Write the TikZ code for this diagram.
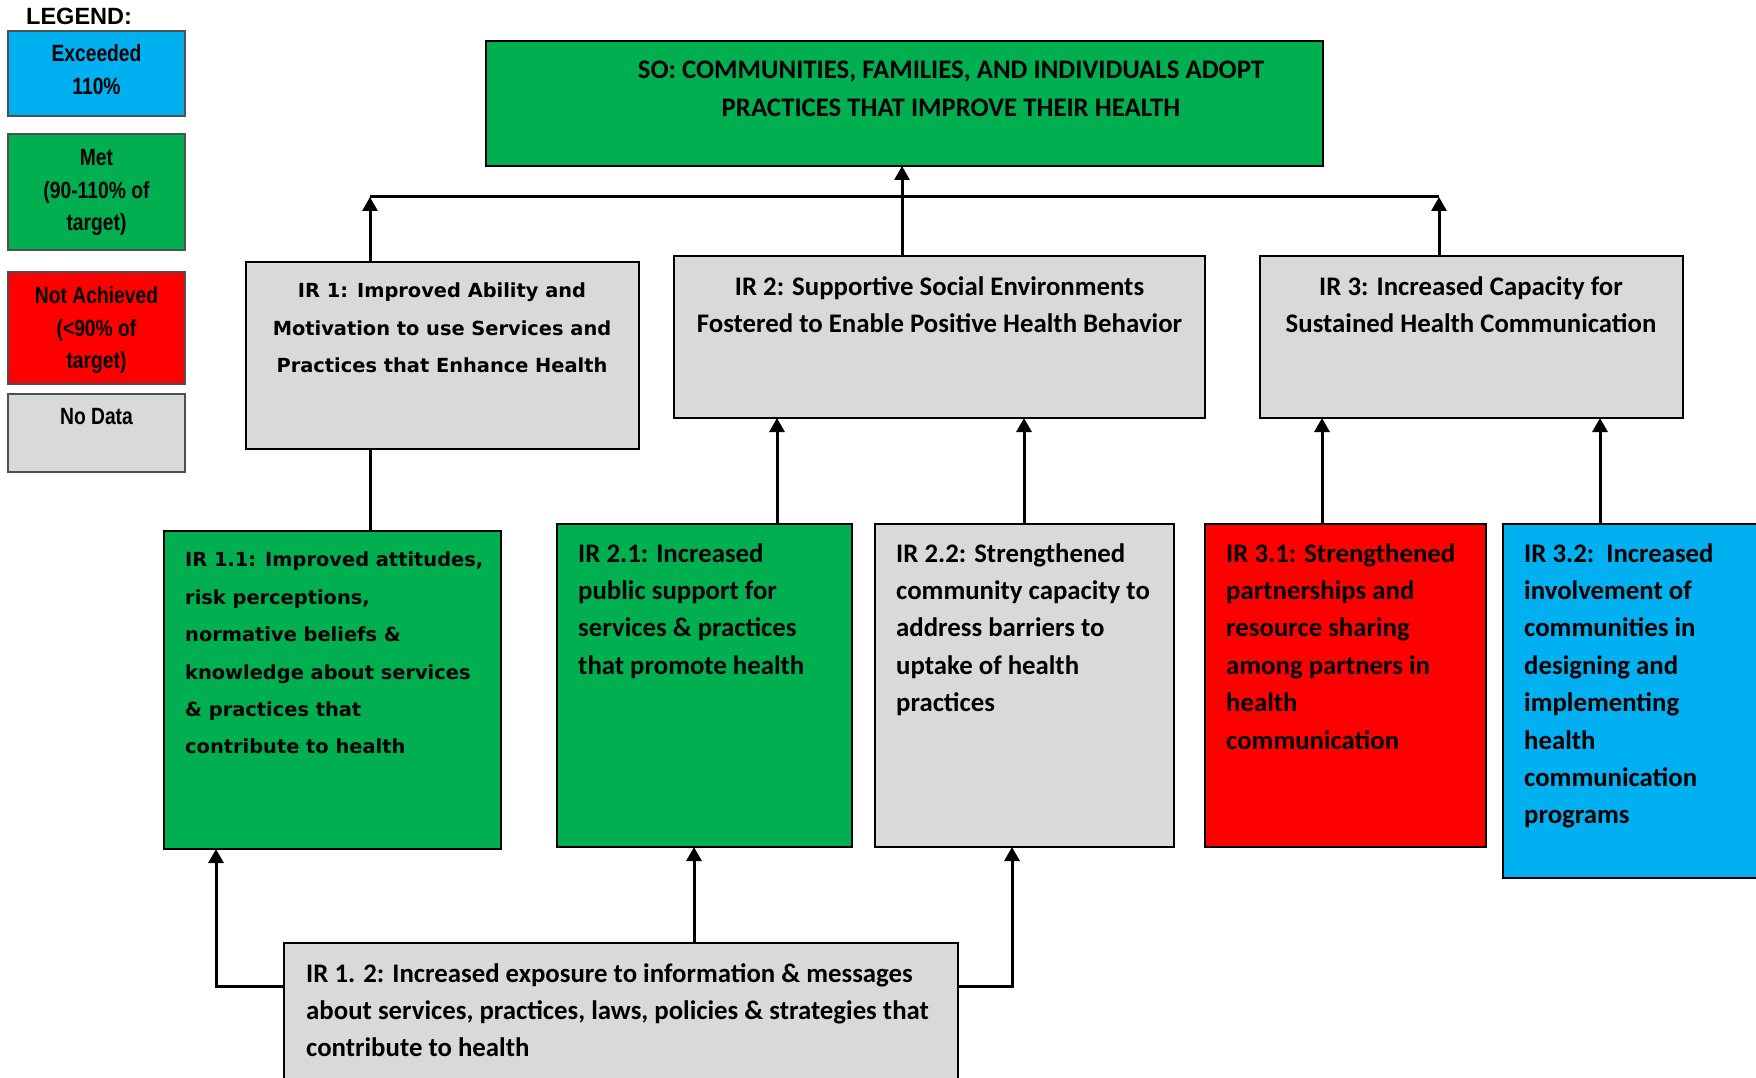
\documentclass[tikz,border=0pt]{standalone}
\usepackage{fontspec}
\setmainfont{Carlito}
\newfontfamily\verd{DejaVu Sans}
\newfontfamily\legfont{Liberation Sans}[FakeStretch=0.82]
\newfontfamily\leghead{Liberation Sans}
\usetikzlibrary{arrows.meta}
\definecolor{cgreen}{HTML}{00B050}
\definecolor{cblue}{HTML}{00B0F0}
\definecolor{cred}{HTML}{FF0000}
\definecolor{cgray}{HTML}{D9D9D9}
\definecolor{legline}{HTML}{505050}
\tikzset{
  box/.style={draw=black, line width=2.2pt, inner sep=0pt, outer sep=0pt, anchor=north west},
  legbox/.style={draw=legline, line width=1.4pt, inner sep=0pt, outer sep=0pt, anchor=north west, minimum width=177pt},
  conn/.style={line width=3pt, black},
  arr/.style={conn, -{Triangle[width=15pt,length=14pt]}},
  caltxt/.style={inner sep=0pt, anchor=north west, align=left, font=\fontsize{26.8}{37.4}\selectfont\bfseries},
  calctr/.style={caltxt, anchor=north, align=center},
  vertxt/.style={inner sep=0pt, anchor=north west, align=left, font=\verd\fontsize{19.4}{37.4}\selectfont\bfseries},
  verctr/.style={vertxt, anchor=north, align=center},
  legtxt/.style={inner sep=0pt, anchor=north, align=center, font=\legfont\fontsize{23.5}{32.5}\selectfont\bfseries},
}
\begin{document}
\begin{tikzpicture}[x=1pt,y=-1pt]
\useasboundingbox (0,0) rectangle (1756,1078);
\clip (0,0) rectangle (1756,1078);
\fill[white] (0,0) rectangle (1756,1078);

% legend
\node[inner sep=0pt, anchor=north west, font=\leghead\fontsize{23.5}{28}\selectfont\bfseries] (leghd) at (26,8) {LEGEND:};
\node[legbox, fill=cblue, minimum height=85pt] (leg1) at (8,31) {};
\node[legbox, fill=cgreen, minimum height=116pt] (leg2) at (8,134) {};
\node[legbox, fill=cred, minimum height=112pt] (leg3) at (8,272) {};
\node[legbox, fill=cgray, minimum height=78pt] (leg4) at (8,394) {};
\node[legtxt] (leg1t) at (96.5,44.5) {Exceeded\\110\%};
\node[legtxt] (leg2t) at (96.5,149.5) {Met\\(90-110\% of\\target)};
\node[legtxt] (leg3t) at (96.5,286.5) {Not Achieved\\(<90\% of\\target)};
\node[legtxt] (leg4t) at (96.5,408.5) {No Data};

% boxes
\node[box, fill=cgreen, minimum width=837pt, minimum height=125pt] (so) at (486,41) {};
\node[box, fill=cgray, minimum width=393pt, minimum height=187pt] (ir1) at (246,262) {};
\node[box, fill=cgray, minimum width=531pt, minimum height=162pt] (ir2) at (674,256) {};
\node[box, fill=cgray, minimum width=423pt, minimum height=162pt] (ir3) at (1260,256) {};
\node[box, fill=cgreen, minimum width=337pt, minimum height=318pt] (ir11) at (164,531) {};
\node[box, fill=cgreen, minimum width=295pt, minimum height=323pt] (ir21) at (557,524) {};
\node[box, fill=cgray, minimum width=299pt, minimum height=323pt] (ir22) at (875,524) {};
\node[box, fill=cred, minimum width=281pt, minimum height=323pt] (ir31) at (1205,524) {};
\node[box, fill=cblue, minimum width=270pt, minimum height=354pt] (ir32) at (1503,524) {};
\node[box, fill=cgray, minimum width=674pt, minimum height=150pt] (ir12) at (284,943) {};

% texts
\node[calctr] (sot) at (951,61) {SO: COMMUNITIES, FAMILIES, AND INDIVIDUALS ADOPT\\PRACTICES THAT IMPROVE THEIR HEALTH};
\node[verctr] (ir1t) at (442,283) {IR 1: Improved Ability and\\Motivation to use Services and\\Practices that Enhance Health};
\node[calctr] (ir2t) at (939.5,276) {IR 2: Supportive Social Environments\\Fostered to Enable Positive Health Behavior};
\node[calctr] (ir3t) at (1471,276) {IR 3: Increased Capacity for\\Sustained Health Communication};
\node[vertxt] (ir11t) at (185,552) {IR 1.1: Improved attitudes,\\risk perceptions,\\normative beliefs \&\\knowledge about services\\\& practices that\\contribute to health};
\node[caltxt] (ir21t) at (578,543) {IR 2.1: Increased\\public support for\\services \& practices\\that promote health};
\node[caltxt] (ir22t) at (896,543) {IR 2.2: Strengthened\\community capacity to\\address barriers to\\uptake of health\\practices};
\node[caltxt] (ir31t) at (1226,543) {IR 3.1: Strengthened\\partnerships and\\resource sharing\\among partners in\\health\\communication};
\node[caltxt] (ir32t) at (1524,543) {IR 3.2:\ \ Increased\\involvement of\\communities in\\designing and\\implementing\\health\\communication\\programs};
\node[caltxt] (ir12t) at (306,963) {IR 1. 2: Increased exposure to information \& messages\\about services, practices, laws, policies \& strategies that\\contribute to health};

% connectors
\coordinate (barL) at (370,197);
\coordinate (barR) at (1439,197);
\draw[conn] (barL) -- (barR);
\draw[arr] (ir1.north -| barL) -- (barL);
\draw[arr] (ir3.north -| barR) -- (barR);
\draw[arr] (ir2.north -| 902,0) -- (so.south -| 902,0);
\draw[conn] (ir11.north -| 370,0) -- (ir1.south -| 370,0);
\draw[arr] (ir21.north -| 777,0) -- (ir2.south -| 777,0);
\draw[arr] (ir22.north -| 1024,0) -- (ir2.south -| 1024,0);
\draw[arr] (ir31.north -| 1322,0) -- (ir3.south -| 1322,0);
\draw[arr] (ir32.north -| 1600,0) -- (ir3.south -| 1600,0);
\coordinate (lft) at (216,986);
\coordinate (rgt) at (1012,986);
\draw[arr] (ir12.west |- lft) -- (lft) -- (ir11.south -| lft);
\draw[arr] (ir12.north -| 694,0) -- (ir21.south -| 694,0);
\draw[arr] (ir12.east |- rgt) -- (rgt) -- (ir22.south -| rgt);
\end{tikzpicture}
\end{document}
